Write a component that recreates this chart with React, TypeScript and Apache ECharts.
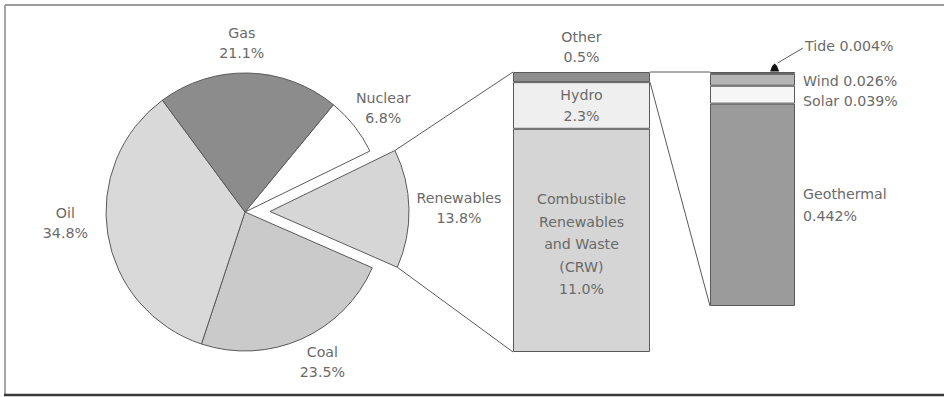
import React, { useEffect, useRef } from "react";
import * as echarts from "echarts";

// World primary energy supply by source (%), clockwise from Nuclear
const sourceNames = ["Nuclear", "Renewables", "Coal", "Oil", "Gas"];
const sourceShares = [6.8, 13.8, 23.5, 34.8, 21.1];

// Breakdown of the renewables share (%), stacked bottom to top
const renewableNames = ["Combustible\nRenewables\nand Waste\n(CRW)", "Hydro", "Other"];
const renewableShares = [11.0, 2.3, 0.5];

// Breakdown of the "Other" renewables share (%), stacked bottom to top
const otherNames = ["Geothermal", "Solar", "Wind", "Tide"];
const otherShares = [0.442, 0.039, 0.026, 0.004];

// ---- styling / layout ----
const FONT = "DejaVu Sans";
const TEXT = "#6a6a6a";
const EDGE = "#5a5a5a";

const sourceColors = ["#ffffff", "#d6d6d6", "#cacaca", "#d9d9d9", "#8c8c8c"];
const renewableColors = ["#d5d5d5", "#efefef", "#8f8f8f"];
const otherColors = ["#9b9b9b", "#f6f6f6", "#b5b5b5", "#333333"];

const PIE_CX = 245;
const PIE_CY = 212;
const PIE_R = 139;
const PIE_START = 50.5;
const PIE_EXPLODE = 25;

// label placement around the pie: angular nudge (deg) from the slice middle, distance from centre
const pieLabelNudge = [-1.3, -1.2, 3.2, -5.5, 2.6];
const pieLabelDist = [173, 212, 169, 180, 169];

const MID_GRID = { left: 513, top: 72, width: 137, height: 280 };
const OTHER_GRID = { left: 710, top: 72, width: 85, height: 234 };

const sum = (a: number[]) => a.reduce((s, v) => s + v, 0);
const rad = (d: number) => (d * Math.PI) / 180;

function sliceAngles() {
  const total = sum(sourceShares);
  let a = PIE_START;
  return sourceShares.map((v) => {
    const start = a;
    const end = a - (360 * v) / total;
    a = end;
    return { start, end, mid: (start + end) / 2 };
  });
}

export default function App() {
  const ref = useRef<HTMLDivElement>(null);

  useEffect(() => {
    if (!ref.current) return;
    const chart = echarts.init(ref.current, undefined, { renderer: "svg" });
    const angles = sliceAngles();
    const midMax = sum(renewableShares);
    const otherMax = sum(otherShares);

    const textBase = { fontFamily: FONT, fontSize: 14.2, color: TEXT };

    const midSeries = renewableNames.map((name, i) => {
      const label: any = {
        show: true,
        ...textBase,
        formatter: () => `${name}\n${renewableShares[i].toFixed(1)}%`,
      };
      if (name === "Other") Object.assign(label, { position: "top", distance: 5, lineHeight: 20 });
      else if (name === "Hydro") Object.assign(label, { position: "inside", lineHeight: 21 });
      else Object.assign(label, { position: "inside", lineHeight: 22.5, offset: [0, 4] });
      return {
        type: "bar",
        name,
        xAxisIndex: 0,
        yAxisIndex: 0,
        stack: "renewables",
        barWidth: "100%",
        data: [renewableShares[i]],
        itemStyle: { color: renewableColors[i], borderColor: EDGE, borderWidth: 1 },
        label,
        emphasis: { disabled: true },
      };
    });

    const otherSeries = otherNames.map((name, i) => {
      const v = otherShares[i].toFixed(3);
      const label: any = { show: true, ...textBase, position: "right", distance: 8 };
      if (name === "Geothermal") Object.assign(label, { lineHeight: 22, formatter: () => `${name}\n${v}%` });
      else if (name === "Solar") Object.assign(label, { offset: [0, 6], formatter: () => `${name} ${v}%` });
      else if (name === "Wind") Object.assign(label, { offset: [0, 1], formatter: () => `${name} ${v}%` });
      else Object.assign(label, { distance: 10, offset: [0, -27], formatter: () => `${name} ${v}%` });
      return {
        type: "bar",
        name,
        xAxisIndex: 1,
        yAxisIndex: 1,
        stack: "other",
        barWidth: "100%",
        data: [otherShares[i]],
        itemStyle: { color: otherColors[i], borderColor: EDGE, borderWidth: 1 },
        label,
        emphasis: { disabled: true },
      };
    });

    const option: any = {
      animation: false,
      backgroundColor: "#ffffff",
      grid: [
        { ...MID_GRID, containLabel: false },
        { ...OTHER_GRID, containLabel: false },
      ],
      xAxis: [
        { type: "category", gridIndex: 0, data: ["renewables"], show: false },
        { type: "category", gridIndex: 1, data: ["other"], show: false },
      ],
      yAxis: [
        { type: "value", gridIndex: 0, min: 0, max: midMax, show: false },
        { type: "value", gridIndex: 1, min: 0, max: otherMax, show: false },
      ],
      series: [
        {
          type: "pie",
          center: [PIE_CX, PIE_CY],
          radius: [0, PIE_R],
          startAngle: PIE_START,
          clockwise: true,
          selectedMode: "single",
          selectedOffset: PIE_EXPLODE,
          avoidLabelOverlap: false,
          data: sourceNames.map((name, i) => ({
            name,
            value: sourceShares[i],
            selected: name === "Renewables",
            itemStyle: { color: sourceColors[i] },
            select: { itemStyle: { color: sourceColors[i] } },
          })),
          itemStyle: { borderColor: EDGE, borderWidth: 1 },
          select: { itemStyle: { borderColor: EDGE, borderWidth: 1 } },
          emphasis: { disabled: true },
          label: {
            show: true,
            position: "outside",
            ...textBase,
            lineHeight: 20,
            formatter: (p: any) => `${p.name}\n${p.value.toFixed(1)}%`,
          },
          labelLine: { show: false },
          labelLayout: (p: any) => {
            const i = p.dataIndex;
            const a = rad(angles[i].mid + pieLabelNudge[i]);
            const d = pieLabelDist[i];
            return {
              x: PIE_CX + d * Math.cos(a),
              y: PIE_CY - d * Math.sin(a),
              align: "center",
              verticalAlign: "middle",
            };
          },
        },
        ...midSeries,
        ...otherSeries,
      ],
    };

    chart.setOption(option);

    // connector lines between the exploded slice and the breakdown bars
    const yMid = (v: number) => chart.convertToPixel({ yAxisIndex: 0 }, v) as number;
    const yOther = (v: number) => chart.convertToPixel({ yAxisIndex: 1 }, v) as number;

    const ri = sourceNames.indexOf("Renewables");
    const ra = angles[ri];
    const apexX = PIE_CX + PIE_EXPLODE * Math.cos(rad(ra.mid));
    const apexY = PIE_CY - PIE_EXPLODE * Math.sin(rad(ra.mid));
    const rim = (deg: number) => [apexX + PIE_R * Math.cos(rad(deg)), apexY - PIE_R * Math.sin(rad(deg))];

    const midL = MID_GRID.left;
    const midR = MID_GRID.left + MID_GRID.width;
    const othL = OTHER_GRID.left;
    const othR = OTHER_GRID.left + OTHER_GRID.width;
    const otherShareOfMid = renewableShares[renewableNames.indexOf("Other")];

    const lineStyle = { stroke: EDGE, lineWidth: 1 };
    const seg = (a: number[], b: number[]) => ({
      type: "line",
      silent: true,
      shape: { x1: a[0], y1: a[1], x2: b[0], y2: b[1] },
      style: lineStyle,
    });

    const tideTop = yOther(otherMax);
    const tideX = othL + 0.76 * OTHER_GRID.width;

    chart.setOption({
      graphic: [
        seg(rim(ra.start), [midL, yMid(midMax)]),
        seg(rim(ra.end), [midL, yMid(0)]),
        seg([midR, yMid(midMax)], [othL, yOther(otherMax)]),
        seg([midR, yMid(midMax - otherShareOfMid)], [othL, yOther(0)]),
        // tide pointer
        {
          type: "polygon",
          silent: true,
          shape: {
            points: [
              [tideX - 4.5, tideTop - 0.5],
              [tideX + 4.5, tideTop - 0.5],
              [tideX + 2.5, tideTop - 6],
              [tideX, tideTop - 8.5],
              [tideX - 2.5, tideTop - 6],
            ],
          },
          style: { fill: "#111111" },
        },
        seg([tideX + 3, tideTop - 9], [othR + 8, tideTop - 24]),
        // frame
        {
          type: "line",
          silent: true,
          shape: { x1: 5, y1: 5, x2: 944, y2: 5 },
          style: { stroke: "#9a9a9a", lineWidth: 2 },
        },
        {
          type: "line",
          silent: true,
          shape: { x1: 5, y1: 5, x2: 5, y2: 395 },
          style: { stroke: "#a5a5a5", lineWidth: 2 },
        },
        {
          type: "line",
          silent: true,
          shape: { x1: 4, y1: 395, x2: 944, y2: 395 },
          style: { stroke: "#3a3a3a", lineWidth: 2.5 },
        },
      ],
    });

    return () => chart.dispose();
  }, []);

  return (
    <div
      ref={ref}
      style={{ position: "fixed", left: 0, top: 0, width: 944, height: 397, background: "#fff" }}
    />
  );
}
